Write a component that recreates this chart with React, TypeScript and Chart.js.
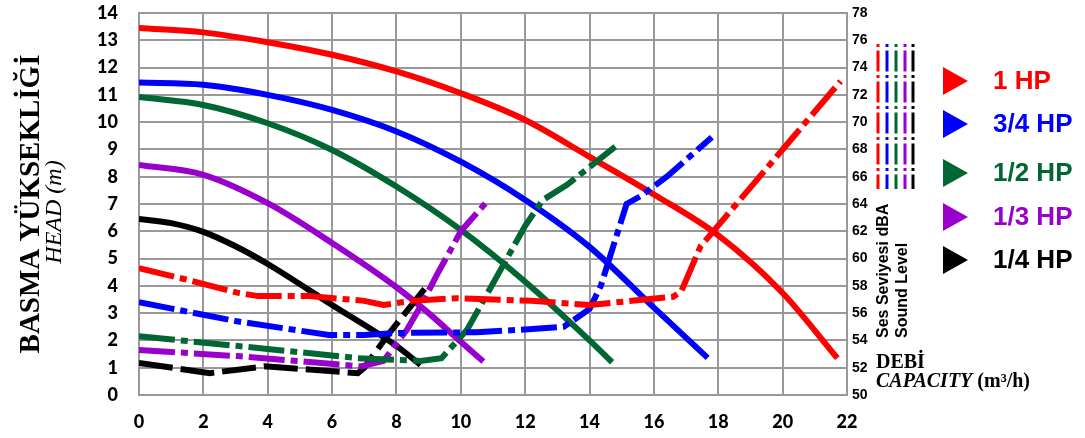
import React, { useEffect, useRef } from "react";
import { Chart, registerables } from "chart.js";

Chart.register(...registerables);

// ---- Data ----
const xTicks = [0, 2, 4, 6, 8, 10, 12, 14, 16, 18, 20, 22];
const headTicks = [0, 1, 2, 3, 4, 5, 6, 7, 8, 9, 10, 11, 12, 13, 14];
const soundTicks = [50, 52, 54, 56, 58, 60, 62, 64, 66, 68, 70, 72, 74, 76, 78];

const seriesNames = ["1 HP", "3/4 HP", "1/2 HP", "1/3 HP", "1/4 HP"];
const seriesColors = ["#FF0000", "#0000FF", "#006633", "#9900CC", "#000000"];

// Head curves (m) vs capacity (m³/h)
const qHead1 = [0, 2, 4, 6, 8, 10, 12, 14, 16, 18, 20, 21.7];
const head1 = [13.45, 13.29, 12.93, 12.47, 11.86, 11.06, 10.08, 8.73, 7.35, 5.85, 3.74, 1.35];
const qHead34 = [0, 2, 4, 6, 8, 10, 12, 14, 16, 17.67];
const head34 = [11.45, 11.37, 11.0, 10.45, 9.66, 8.55, 7.15, 5.43, 3.2, 1.36];
const qHead12 = [0, 2, 4, 6, 8, 10, 12, 14, 14.7];
const head12 = [10.92, 10.63, 9.96, 8.98, 7.64, 6.05, 4.15, 2.0, 1.2];
const qHead13 = [0, 2, 4, 6, 8, 9, 10, 10.7];
const head13 = [8.43, 8.07, 7.03, 5.57, 3.95, 3.0, 1.95, 1.23];
const qHead14 = [0, 1, 2, 3, 4, 6, 8, 8.75];
const head14 = [6.45, 6.3, 5.98, 5.45, 4.8, 3.3, 1.8, 1.1];

// Sound level curves (dBA) vs capacity (m³/h)
const qSound1 = [0, 1.4, 3.05, 3.7, 5.3, 7.0, 7.6, 8.5, 9.9, 12.2, 14.0, 16.6, 16.85, 17.45, 21.8];
const sound1 = [59.3, 58.5, 57.5, 57.25, 57.25, 56.9, 56.6, 56.9, 57.1, 56.9, 56.6, 57.2, 57.6, 60.9, 73.0];
const qSound34 = [0, 3.05, 5.9, 7.0, 8.1, 10.5, 12.0, 13.2, 14.0, 14.35, 15.15, 15.6, 16.4, 17.8];
const sound34 = [56.8, 55.4, 54.4, 54.4, 54.55, 54.6, 54.8, 55.0, 56.3, 58.0, 64.0, 64.6, 66.0, 68.9];
const qSound12 = [0, 3.05, 6.8, 8.75, 9.4, 10.2, 12.0, 12.55, 13.3, 14.8];
const sound12 = [54.3, 53.6, 52.7, 52.5, 52.7, 54.8, 62.4, 64.3, 65.4, 68.2];
const qSound13 = [0, 3.05, 6.9, 7.6, 8.33, 8.75, 9.3, 10.0, 10.86];
const sound13 = [53.3, 52.85, 52.1, 52.5, 54.8, 56.5, 59.0, 62.0, 64.3];
const qSound14 = [0, 2.2, 3.9, 6.8, 7.0, 7.8, 8.95];
const sound14 = [52.35, 51.6, 52.1, 51.6, 52.0, 54.6, 58.0];

const headQ = [qHead1, qHead34, qHead12, qHead13, qHead14];
const headV = [head1, head34, head12, head13, head14];
const soundQ = [qSound1, qSound34, qSound12, qSound13, qSound14];
const soundV = [sound1, sound34, sound12, sound13, sound14];

const leftTitle1 = "BASMA YÜKSEKLİĞİ";
const leftTitle2 = "HEAD (m)";
const rightTitle1 = "Ses Seviyesi dBA";
const rightTitle2 = "Sound Level";
const xTitle1 = "DEBİ";
const xTitle2a = "CAPACITY";
const xTitle2b = " (m³/h)";

const zip = (xs: number[], ys: number[]) => xs.map((x, i) => ({ x, y: ys[i] }));

const GRID = "#999999";

const overlayPlugin = {
  id: "overlay",
  afterDraw(chart: any) {
    const ctx: CanvasRenderingContext2D = chart.ctx;
    const area = chart.chartArea;
    const midY = (area.top + area.bottom) / 2;
    ctx.save();
    ctx.fillStyle = "#000";
    // Left axis titles
    ctx.save();
    ctx.translate(39, midY);
    ctx.rotate(-Math.PI / 2);
    ctx.textAlign = "center";
    ctx.textBaseline = "alphabetic";
    ctx.font = "bold 29px 'Liberation Serif'";
    ctx.fillText(leftTitle1, 0, 0);
    ctx.restore();
    ctx.save();
    ctx.translate(61, midY + 8);
    ctx.rotate(-Math.PI / 2);
    ctx.textAlign = "center";
    ctx.textBaseline = "alphabetic";
    ctx.font = "italic 24px 'Liberation Serif'";
    ctx.fillText(leftTitle2, 0, 0);
    ctx.restore();

    // Right axis titles (vertical)
    ctx.font = "bold 16px 'Liberation Sans'";
    ctx.textAlign = "left";
    ctx.textBaseline = "alphabetic";
    ctx.save();
    ctx.translate(888, 338);
    ctx.rotate(-Math.PI / 2);
    ctx.fillText(rightTitle1, 0, 0);
    ctx.restore();
    ctx.save();
    ctx.translate(907, 338);
    ctx.rotate(-Math.PI / 2);
    ctx.fillText(rightTitle2, 0, 0);
    ctx.restore();

    // Small dash-dot sample lines
    const sampleX = [878, 887, 896, 905, 913];
    ctx.lineWidth = 3;
    ctx.lineCap = "butt";
    ctx.setLineDash([3, 3.5, 21, 3.5]);
    seriesColors.forEach((c, i) => {
      ctx.strokeStyle = c;
      ctx.beginPath();
      ctx.moveTo(sampleX[i], 44);
      ctx.lineTo(sampleX[i], 189);
      ctx.stroke();
    });
    ctx.setLineDash([]);

    // Legend triangles and labels
    const legendY = [81, 124, 173, 217, 260];
    ctx.font = "bold 26px 'Liberation Sans'";
    ctx.textBaseline = "middle";
    ctx.textAlign = "left";
    seriesNames.forEach((n, i) => {
      const y = legendY[i];
      ctx.fillStyle = seriesColors[i];
      ctx.beginPath();
      ctx.moveTo(943, y - 14);
      ctx.lineTo(968, y);
      ctx.lineTo(943, y + 14);
      ctx.closePath();
      ctx.fill();
      ctx.fillText(n, 993, y + 1);
    });

    // X axis title
    ctx.fillStyle = "#000";
    ctx.textBaseline = "alphabetic";
    ctx.font = "bold 20px 'Liberation Serif'";
    ctx.fillText(xTitle1, 876, 368);
    ctx.font = "italic bold 20px 'Liberation Serif'";
    ctx.fillText(xTitle2a, 876, 387);
    const w = ctx.measureText(xTitle2a).width;
    ctx.font = "bold 20px 'Liberation Serif'";
    ctx.fillText(xTitle2b, 876 + w, 387);
    ctx.restore();
  },
};

export default function App() {
  const ref = useRef<HTMLCanvasElement | null>(null);
  useEffect(() => {
    const canvas = ref.current!;
    const datasets: any[] = [];
    soundQ.forEach((qs, i) => {
      datasets.push({
        label: seriesNames[i] + " dBA",
        data: zip(qs, soundV[i]),
        yAxisID: "y1",
        borderColor: seriesColors[i],
        backgroundColor: seriesColors[i],
        borderWidth: 6,
        borderDash: i === 4 ? [34, 8] : [36, 6, 7, 6],
        borderCapStyle: "butt",
        pointRadius: 0,
        tension: 0,
        fill: false,
      });
    });
    headQ.forEach((qs, i) => {
      datasets.push({
        label: seriesNames[i],
        data: zip(qs, headV[i]),
        yAxisID: "y",
        borderColor: seriesColors[i],
        backgroundColor: seriesColors[i],
        borderWidth: 6,
        pointRadius: 0,
        cubicInterpolationMode: "monotone",
        fill: false,
      });
    });

    const tickFont = { family: "Lato", weight: "900", size: 18 } as any;

    const chart = new Chart(canvas, {
      type: "line",
      data: { datasets },
      plugins: [overlayPlugin],
      options: {
        animation: false,
        responsive: false,
        devicePixelRatio: 1,
        layout: { padding: { top: 13, left: 0, right: 0, bottom: 0 } },
        plugins: { legend: { display: false }, tooltip: { enabled: false } },
        scales: {
          x: {
            type: "linear",
            min: 0,
            max: 22,
            afterBuildTicks: (s: any) => {
              s.ticks = xTicks.map((v) => ({ value: v }));
            },
            afterFit: (s: any) => {
              s.height = 43;
              s.paddingLeft = 0;
              s.paddingRight = 0;
            },
            ticks: {
              padding: 16,
              color: "#000",
              font: tickFont,
              maxRotation: 0,
            },
            grid: { color: GRID, lineWidth: 2, drawTicks: false },
            border: { color: GRID, width: 2 },
          },
          y: {
            type: "linear",
            position: "left",
            min: 0,
            max: 14,
            afterBuildTicks: (s: any) => {
              s.ticks = headTicks.map((v) => ({ value: v }));
            },
            afterFit: (s: any) => {
              s.width = 139;
              s.paddingTop = 0;
              s.paddingBottom = 0;
            },
            ticks: {
              padding: 21,
              color: "#000",
              font: tickFont,
            },
            grid: { color: GRID, lineWidth: 2, drawTicks: false },
            border: { color: GRID, width: 2 },
          },
          y1: {
            type: "linear",
            position: "right",
            min: 50,
            max: 78,
            afterBuildTicks: (s: any) => {
              s.ticks = soundTicks.map((v) => ({ value: v }));
            },
            afterFit: (s: any) => {
              s.width = 1085 - 847;
              s.paddingTop = 0;
              s.paddingBottom = 0;
            },
            ticks: {
              padding: 5,
              color: "#000",
              font: { family: "Liberation Sans", weight: "bold", size: 14 },
            },
            grid: { drawOnChartArea: false, drawTicks: false },
            border: { color: GRID, width: 2 },
          },
        },
      },
    });
    return () => chart.destroy();
  }, []);

  return (
    <div style={{ position: "absolute", left: 0, top: 0, width: 1085, height: 438, background: "#fff" }}>
      <canvas ref={ref} width={1085} height={438} style={{ display: "block" }} />
    </div>
  );
}
